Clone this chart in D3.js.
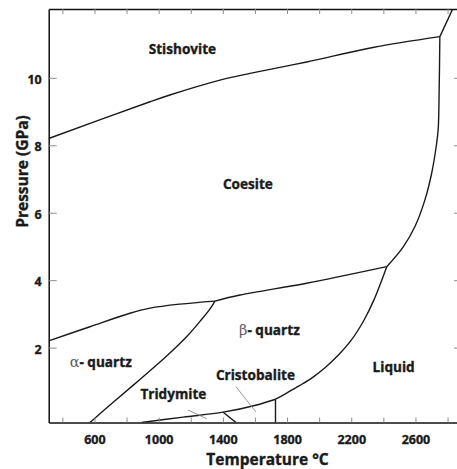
<!DOCTYPE html>
<html>
<head>
<meta charset="utf-8">
<script src="https://cdn.jsdelivr.net/npm/d3@7"></script>
<style>
  html, body { margin: 0; padding: 0; background: #fff; }
  svg { display: block; }
  text { font-family: "Open Sans", Lato, sans-serif; font-weight: 700; fill: #1a1a1a; }
  .heavy { stroke: #1a1a1a; stroke-width: 0.35; paint-order: stroke; }
</style>
</head>
<body>
<svg id="chart" width="457" height="469"></svg>
<script>
// SiO2 phase diagram: temperature (°C) against pressure (GPa).
// Each boundary is a list of [temperature, pressure] points.
const coesiteStishovite = [[315, 8.20], [946, 9.29], [1070, 9.49], [1382, 9.93], [1569, 10.13],
  [1922, 10.47], [2335, 10.90], [2752, 11.22]];
const stishoviteLiquid = [[2752, 11.22], [2832, 12.04]];
const alphaQuartzCoesite = [[315, 2.20], [572, 2.62], [821, 3.02], [946, 3.17], [1133, 3.29], [1351, 3.38]];
const betaQuartzCoesite = [[1351, 3.38], [1507, 3.56], [1922, 3.91], [2421, 4.40]];
const alphaBetaQuartz = [[1351, 3.38], [1320, 3.15], [1270, 2.85], [1180, 2.35], [1050, 1.75], [882, 1.05],
  [717, 0.38], [572, -0.22]];
const coesiteLiquid = [[2421, 4.40], [2524, 4.99], [2597, 5.59], [2659, 6.38], [2701, 7.17], [2732, 8.06],
  [2742, 8.50], [2748, 9.73], [2752, 11.22]];
const quartzLiquid = [[2421, 4.40], [2390, 4.00], [2340, 3.40], [2280, 2.82], [2200, 2.22], [2120, 1.78],
  [2040, 1.42], [1960, 1.12], [1880, 0.88], [1800, 0.66], [1728, 0.47]];
const cristobaliteLiquid = [[1728, 0.47], [1728, -0.22]];
const tridymiteCristobaliteUpper = [[894, -0.22], [1153, -0.06], [1402, 0.086], [1611, 0.30], [1728, 0.47]];
const tridymiteCristobalite = [[1402, 0.086], [1482, -0.22]];

// Leader lines from the small-field labels to their fields
const tridymiteLeader = [[1183, 0.15], [1301, -0.11]];
const cristobaliteLeader = [[1482, 0.84], [1606, 0.095]];

// Field names and their anchor points [temperature, pressure]
const fieldNames = ["Stishovite", "Coesite", "- quartz", "- quartz", "Tridymite", "Cristobalite", "Liquid"];
const fieldPrefixes = ["", "", "α", "β", "", "", ""];
const fieldAnchors = [[1148, 10.72], [1556, 6.69], [639, 1.42], [1690, 2.38], [1092, 0.48], [1603, 1.04], [2464, 1.29]];

// Axis ticks
const tempTicks = [400, 600, 800, 1000, 1200, 1400, 1600, 1800, 2000, 2200, 2400, 2600, 2800];
const tempLabels = [600, 1000, 1400, 1800, 2200, 2600];
const pressureTicks = [2, 4, 6, 8, 10];

const svg = d3.select("#chart");
const plotLeft = 48.7, plotRight = 462, plotTop = 9, plotBottom = 422.5;

const x = d3.scaleLinear().domain([315, 2890]).range([plotLeft, plotRight]);
const y = d3.scaleLinear().domain([-0.22, 12.04]).range([plotBottom, plotTop]);

svg.append("defs").append("clipPath").attr("id", "plot-clip")
  .append("rect").attr("x", plotLeft).attr("y", plotTop)
  .attr("width", plotRight - plotLeft).attr("height", plotBottom - plotTop);

const line = d3.line()
  .x(d => x(d[0]))
  .y(d => y(d[1]))
  .curve(d3.curveCatmullRom.alpha(0.5));

const plot = svg.append("g").attr("clip-path", "url(#plot-clip)");

const boundaries = [coesiteStishovite, stishoviteLiquid, alphaQuartzCoesite, betaQuartzCoesite,
  alphaBetaQuartz, coesiteLiquid, quartzLiquid, cristobaliteLiquid, tridymiteCristobaliteUpper,
  tridymiteCristobalite];

plot.selectAll("path.boundary")
  .data(boundaries)
  .join("path")
  .attr("class", "boundary")
  .attr("d", line)
  .attr("fill", "none")
  .attr("stroke", "#1a1a1a")
  .attr("stroke-width", 1.4)
  .attr("stroke-linejoin", "round");

plot.selectAll("path.leader")
  .data([tridymiteLeader, cristobaliteLeader])
  .join("path")
  .attr("class", "leader")
  .attr("d", d3.line().x(d => x(d[0])).y(d => y(d[1])))
  .attr("fill", "none")
  .attr("stroke", "#8a8a8a")
  .attr("stroke-width", 0.9);

// Axes with inward ticks
function styleAxis(g) {
  g.select(".domain").attr("stroke", "#111").attr("stroke-width", 1.5);
  g.selectAll(".tick line").attr("stroke", "#8c8c8c").attr("stroke-width", 1);
  g.selectAll(".tick text").attr("class", "heavy").attr("font-family", "'Open Sans', Lato, sans-serif")
    .attr("font-weight", 700).attr("font-size", 12.5).attr("fill", "#1a1a1a");
}

svg.append("g")
  .attr("transform", `translate(0,${plotBottom})`)
  .call(d3.axisBottom(x).tickValues(tempTicks).tickSizeInner(-5).tickSizeOuter(0).tickPadding(13)
    .tickFormat(d => tempLabels.includes(d) ? String(d) : ""))
  .call(styleAxis);

svg.append("g")
  .attr("transform", `translate(0,${plotTop})`)
  .call(d3.axisTop(x).tickValues(tempTicks).tickSizeInner(-5).tickSizeOuter(0).tickFormat(""))
  .call(styleAxis);

svg.append("g")
  .attr("transform", `translate(${plotLeft},0)`)
  .call(d3.axisLeft(y).tickValues(pressureTicks).tickSizeInner(-8).tickSizeOuter(0).tickPadding(7))
  .call(styleAxis)
  .selectAll(".tick text").attr("dy", "0.45em");

svg.append("g")
  .attr("transform", `translate(${plotRight},0)`)
  .call(d3.axisRight(y).tickValues(pressureTicks).tickSizeInner(-8).tickSizeOuter(0).tickFormat(""))
  .call(styleAxis);

// Field labels
const labels = svg.append("g").selectAll("text")
  .data(fieldNames.map((name, i) => ({ name, prefix: fieldPrefixes[i], at: fieldAnchors[i] })))
  .join("text")
  .attr("x", d => x(d.at[0]))
  .attr("y", d => y(d.at[1]))
  .attr("text-anchor", "middle")
  .attr("font-size", 13.6);

labels.filter(d => d.prefix)
  .append("tspan")
  .attr("font-family", "'DejaVu Serif', 'Liberation Serif', serif")
  .attr("font-weight", 400)
  .attr("font-size", 14.5)
  .attr("fill", "#5a6068")
  .text(d => d.prefix);

labels.append("tspan").attr("class", "heavy").text(d => d.name);

// Axis titles
svg.append("text")
  .attr("class", "heavy")
  .attr("x", 267.5)
  .attr("y", 464.5)
  .attr("text-anchor", "middle")
  .attr("font-size", 15.5)
  .text("Temperature °C");

svg.append("text")
  .attr("class", "heavy")
  .attr("transform", "translate(28,171.5) rotate(-90)")
  .attr("text-anchor", "middle")
  .attr("font-size", 15.5)
  .text("Pressure (GPa)");
</script>
</body>
</html>
